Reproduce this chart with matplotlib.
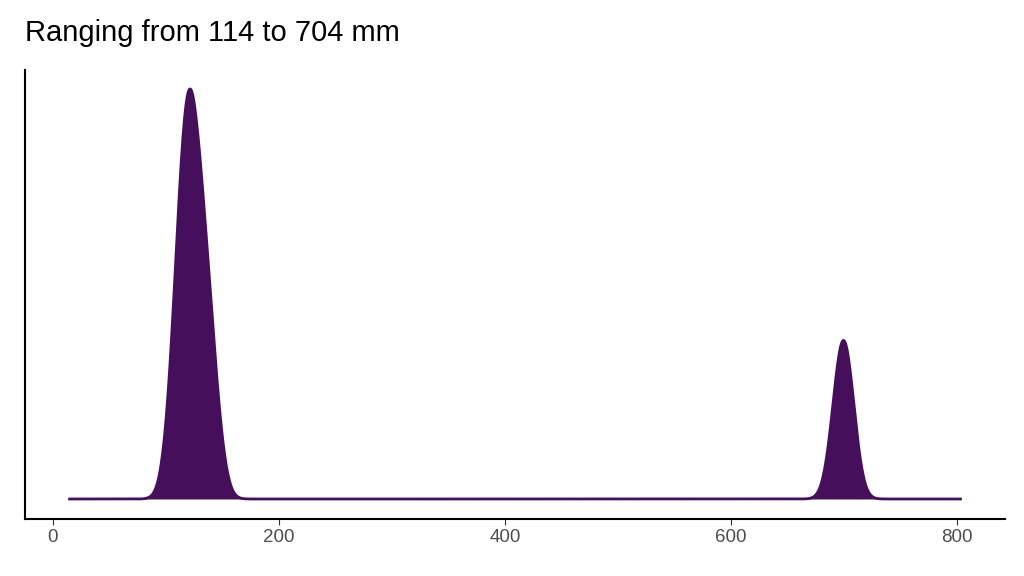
import numpy as np
import matplotlib
matplotlib.use("Agg")
import matplotlib.pyplot as plt

# observed lengths (mm)
lengths = [106, 110, 113, 114, 116, 118, 119, 120, 121, 122, 124, 126, 128, 130,
           132, 134, 137, 140, 144,
           693, 697, 700, 702, 705]
bandwidth = 8.0
x_min, x_max = 15, 803
title = "Ranging from 114 to 704 mm"
xticks = [0, 200, 400, 600, 800]

data = np.array(lengths, float)
xs = np.linspace(x_min, x_max, 1024)
dens = np.exp(-0.5 * ((xs[:, None] - data[None, :]) / bandwidth) ** 2).sum(1)
dens /= (len(data) * bandwidth * np.sqrt(2 * np.pi))

plt.rcParams["font.family"] = ["Liberation Sans", "DejaVu Sans"]
fig = plt.figure(figsize=(10.24, 5.76), dpi=100)
ax = fig.add_axes([25/1024, 1-519/576, 980/1024, (519-70)/576])
ax.fill_between(xs, 0, dens, color="#460F5C", lw=0)
ax.plot(xs, dens, color="#460F5C", lw=2)
span = x_max - x_min
ax.set_xlim(x_min - 0.05*span, x_max + 0.05*span)
peak = dens.max()
ax.set_ylim(-peak*20/410, peak*(1+19/410))
ax.set_yticks([])
ax.set_xticks(xticks)
ax.tick_params(axis="x", labelsize=13.5, labelcolor="#4d4d4d", color="#333333", length=4)
for s in ["top", "right"]:
    ax.spines[s].set_visible(False)
for s in ["left", "bottom"]:
    ax.spines[s].set_linewidth(1.5)
fig.text(25/1024, 1-33/576, title, fontsize=21, va="center", ha="left")
fig.savefig("out.png", dpi=100)
